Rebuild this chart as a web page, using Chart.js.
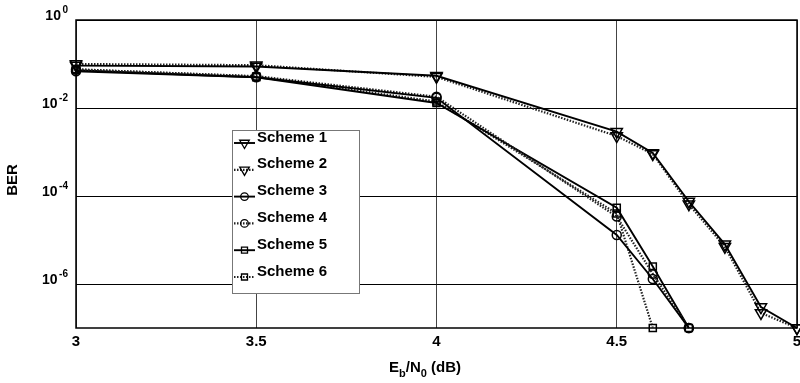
<!DOCTYPE html>
<html><head><meta charset="utf-8">
<script src="https://cdn.jsdelivr.net/npm/chart.js@4.4.1/dist/chart.umd.min.js"></script>
<style>html,body{margin:0;padding:0;background:#fff}#wrap{width:800px;height:383px;position:relative}</style>
</head><body><div id="wrap"><canvas id="c"></canvas></div>
<script>
const schemeNames = ['Scheme 1','Scheme 2','Scheme 3','Scheme 4','Scheme 5','Scheme 6'];
const ebn0Long = [3,3.5,4,4.5,4.6,4.7,4.8,4.9,5];
const ebn0Mid = [3,3.5,4,4.5,4.6,4.7];
const ebn0Short = [3,3.5,4,4.5,4.6];
const berScheme1 = [0.092,0.088,0.054,2.9e-3,9.5e-4,7.5e-5,8e-6,3e-7,1e-7];
const berScheme2 = [0.1,0.094,0.051,2.3e-3,9e-4,6.5e-5,7e-6,2.2e-7,1e-7];
const berScheme3 = [0.068,0.05,0.017,1.3e-5,1.3e-6,1e-7];
const berScheme4 = [0.075,0.053,0.018,3.4e-5,1.7e-6,1e-7];
const berScheme5 = [0.072,0.05,0.013,5.4e-5,2.5e-6,1e-7];
const berScheme6 = [0.076,0.052,0.014,4e-5,1e-7];
const xTicks = [3,3.5,4,4.5,5];
const yTickExps = [0,-2,-4,-6];

const FONT = '"Liberation Sans", Arial, sans-serif';
const toPts = (xs, ys) => xs.map((x,i)=>({x:x, y:ys[i]}));

const styles = [
  {dotted:false, marker:'triangle', r:6.5},
  {dotted:true,  marker:'triangle', r:6.5},
  {dotted:false, marker:'circle', r:4.5},
  {dotted:true,  marker:'circle', r:4.5},
  {dotted:false, marker:'rect', r:5},
  {dotted:true,  marker:'rect', r:5}
];
const seriesX = [ebn0Long, ebn0Long, ebn0Mid, ebn0Mid, ebn0Mid, ebn0Short];
const seriesY = [berScheme1, berScheme2, berScheme3, berScheme4, berScheme5, berScheme6];

const datasets = schemeNames.map((name,i)=>{
  const s = styles[i];
  return {
    label: name,
    data: toPts(seriesX[i], seriesY[i]),
    borderColor: s.dotted ? '#222' : '#000',
    borderWidth: s.dotted ? 2.2 : 1.9,
    borderDash: s.dotted ? [1.5,1.5] : [],
    pointStyle: s.marker,
    rotation: s.marker==='triangle' ? 180 : 0,
    pointRotation: s.marker==='triangle' ? 180 : 0,
    pointRadius: s.r,
    pointBorderWidth: 1.5,
    pointBorderColor: '#000',
    pointBackgroundColor: 'rgba(255,255,255,0)',
    tension: 0,
    fill: false,
    clip: false
  };
});

function drawMarker(ctx, type, x, y, r){
  ctx.beginPath();
  if (type==='triangle'){
    const a0 = Math.PI;
    for (let k=0;k<3;k++){
      const rad = a0 + k*2*Math.PI/3;
      const px = x + Math.sin(rad)*r, py = y - Math.cos(rad)*r;
      if (k===0) ctx.moveTo(px,py); else ctx.lineTo(px,py);
    }
    ctx.closePath();
  } else if (type==='circle'){
    ctx.arc(x,y,r,0,Math.PI*2);
  } else {
    const s = r*Math.SQRT1_2;
    ctx.rect(x-s,y-s,2*s,2*s);
  }
  ctx.stroke();
}

const decor = {
  id:'decor',
  beforeDatasetsDraw(chart){
    const ctx = chart.ctx, a = chart.chartArea;
    ctx.save();
    ctx.strokeStyle = '#000'; ctx.lineWidth = 1.5;
    ctx.strokeRect(a.left, a.top, a.right-a.left, a.bottom-a.top);
    ctx.restore();
  },
  afterDraw(chart){
    const ctx = chart.ctx, a = chart.chartArea;
    ctx.save();
    ctx.fillStyle = '#000';
    const ys = chart.scales.y;
    yTickExps.forEach(e=>{
      const y = ys.getPixelForValue(Math.pow(10,e));
      const es = String(e);
      ctx.textAlign = 'right'; ctx.textBaseline = 'alphabetic';
      ctx.font = 'bold 10px ' + FONT;
      const ew = ctx.measureText(es).width;
      ctx.fillText(es, 68, y-7);
      ctx.font = 'bold 14px ' + FONT;
      ctx.fillText('10', 68-ew-1.5, y);
    });
    ctx.save();
    ctx.translate(12.5, 180);
    ctx.rotate(-Math.PI/2);
    ctx.textAlign='center'; ctx.textBaseline='middle';
    ctx.font = 'bold 15px ' + FONT;
    ctx.fillText('BER', 0, 0);
    ctx.restore();
    const parts = [['E',false],['b',true],['/N',false],['0',true],[' (dB)',false]];
    let tot = 0;
    parts.forEach(p=>{ ctx.font = (p[1]?'bold 11px ':'bold 15px ')+FONT; tot += ctx.measureText(p[0]).width; });
    let x = 425 - tot/2;
    ctx.textAlign='left'; ctx.textBaseline='alphabetic';
    parts.forEach(p=>{
      ctx.font = (p[1]?'bold 11px ':'bold 15px ')+FONT;
      ctx.fillText(p[0], x, p[1] ? 377 : 372);
      x += ctx.measureText(p[0]).width;
    });
    const lx = 232, ly = 130, lw = 127, lh = 163;
    ctx.fillStyle = '#fff';
    ctx.fillRect(lx, ly, lw, lh);
    ctx.strokeStyle = '#777'; ctx.lineWidth = 1;
    ctx.strokeRect(lx+0.5, ly+0.5, lw, lh);
    chart.data.datasets.forEach((ds,i)=>{
      const yy = 143 + i*26.8;
      const s = styles[i];
      ctx.strokeStyle = ds.borderColor;
      ctx.lineWidth = ds.borderWidth;
      ctx.setLineDash(ds.borderDash);
      ctx.beginPath(); ctx.moveTo(234, yy); ctx.lineTo(255, yy); ctx.stroke();
      ctx.setLineDash([]);
      ctx.strokeStyle = '#000'; ctx.lineWidth = 1.3;
      ctx.fillStyle = '#fff';
      drawMarker(ctx, s.marker, 244.5, yy, s.r*0.85);
      ctx.fillStyle = '#000';
      ctx.font = 'bold 15px ' + FONT;
      ctx.textAlign='left'; ctx.textBaseline='alphabetic';
      ctx.fillText(ds.label, 257, yy-1.5);
    });
    ctx.restore();
  }
};

new Chart(document.getElementById('c'), {
  type: 'line',
  data: { datasets },
  plugins: [decor],
  options: {
    responsive: true, maintainAspectRatio: false, animation: false,
    layout: { padding: {left:0, right:3, top:20, bottom:0}, autoPadding: false },
    plugins: { legend: {display:false}, tooltip: {enabled:false} },
    scales: {
      x: {
        type:'linear', min:3, max:5,
        afterBuildTicks: s => { s.ticks = xTicks.map(v=>({value:v})); },
        afterFit: s => { s.height = 55; s.paddingLeft = 0; s.paddingRight = 0; },
        grid: { color:'#444', lineWidth:1, drawTicks:false },
        border: { display:false },
        ticks: { padding:5, color:'#000', font:{family:FONT, weight:'bold', size:15}, callback: v => String(v), maxRotation:0, autoSkip:false }
      },
      y: {
        type:'logarithmic', min:1e-7, max:1,
        afterBuildTicks: s => { s.ticks = yTickExps.map(e=>({value:Math.pow(10,e)})); },
        afterFit: s => { s.width = 76; s.paddingTop = 0; s.paddingBottom = 0; },
        grid: { color:'#000', lineWidth:1, drawTicks:false },
        border: { display:false },
        ticks: { display:false }
      }
    }
  }
});
</script>
</body></html>
